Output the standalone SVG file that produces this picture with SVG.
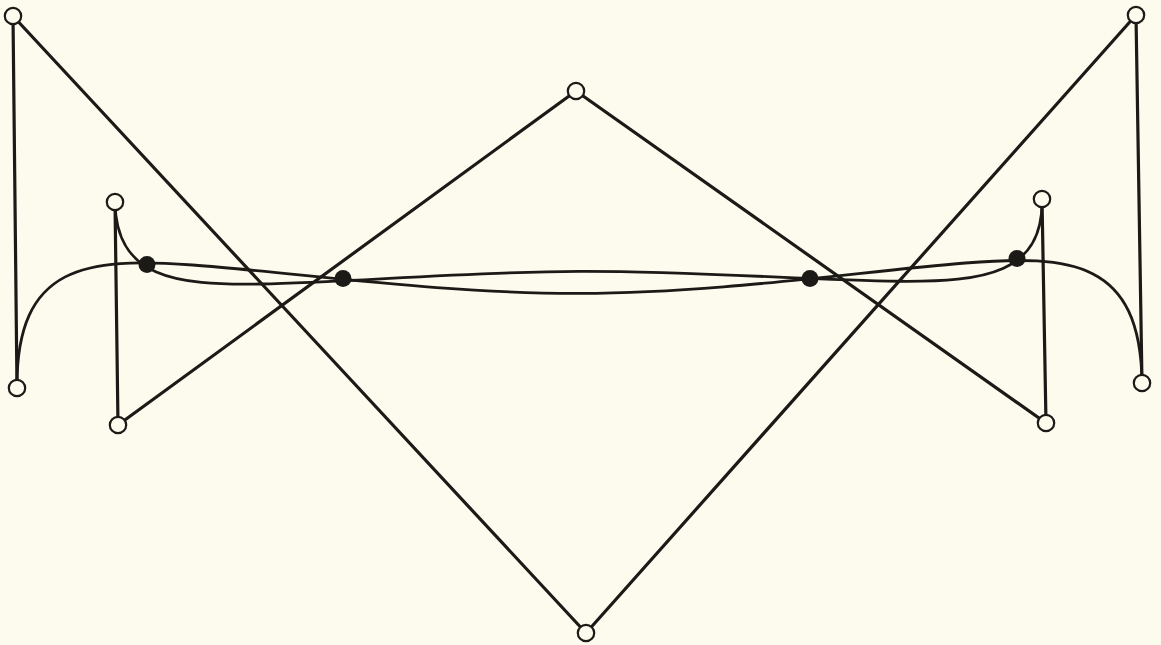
<svg xmlns="http://www.w3.org/2000/svg" width="1161" height="645" viewBox="0 0 1161 645">
<style>
.poly{stroke:#1c1a17;stroke-width:3.2;fill:none;stroke-linecap:round}
.crv{stroke:#1c1a17;stroke-width:2.8;fill:none}
.open{fill:#fcfbee;stroke:#1c1a17;stroke-width:2.2}
.dot{fill:#1c1a17}
</style>
<rect width="1161" height="645" fill="#fcfbee"/>
<g id="connectors">
<line class="poly" x1="13" y1="16" x2="17" y2="388"/>
<line class="poly" x1="13" y1="16" x2="586" y2="633"/>
<line class="poly" x1="586" y1="633" x2="1136" y2="15"/>
<line class="poly" x1="1136" y1="15" x2="1142" y2="383"/>
<line class="poly" x1="115" y1="202" x2="118" y2="425"/>
<line class="poly" x1="118" y1="425" x2="576" y2="91"/>
<line class="poly" x1="576" y1="91" x2="1046" y2="423"/>
<line class="poly" x1="1046" y1="423" x2="1042" y2="199"/>
<path id="curve1" class="crv" d="M17,388 C16,264 86.78,257.34 192.61,265.02 C298.44,272.7 439.33,293.71 579.75,293.38 C720.17,293.04 860.1,271.36 965.23,263.02 C1070.35,254.68 1140.67,260 1142,383"/>
<path id="curve2" class="crv" d="M115,202 C116,277 173.93,285.55 260.73,284.02 C347.53,282.49 463.2,271.88 579.13,271.38 C695.05,270.88 811.19,280.49 898.35,281.27 C985.51,282.05 1043.67,273 1042,199"/>
</g>
<g id="nodeA"><circle class="open" cx="13" cy="16" r="8.2"/></g>
<g id="nodeB"><circle class="open" cx="17" cy="388" r="8.2"/></g>
<g id="nodeC"><circle class="open" cx="115" cy="202" r="8.2"/></g>
<g id="nodeD"><circle class="open" cx="118" cy="425" r="8.2"/></g>
<g id="nodeE"><circle class="open" cx="576" cy="91" r="8.2"/></g>
<g id="nodeF"><circle class="open" cx="586" cy="633" r="8.2"/></g>
<g id="nodeG"><circle class="open" cx="1042" cy="199" r="8.2"/></g>
<g id="nodeH"><circle class="open" cx="1046" cy="423" r="8.2"/></g>
<g id="nodeI"><circle class="open" cx="1136" cy="15" r="8.2"/></g>
<g id="nodeJ"><circle class="open" cx="1142" cy="383" r="8.2"/></g>
<g id="dot1"><circle class="dot" cx="147" cy="264.5" r="8.5"/></g>
<g id="dot2"><circle class="dot" cx="343" cy="278.5" r="8.5"/></g>
<g id="dot3"><circle class="dot" cx="810" cy="278.5" r="8.5"/></g>
<g id="dot4"><circle class="dot" cx="1017" cy="258.5" r="8.5"/></g>
</svg>
